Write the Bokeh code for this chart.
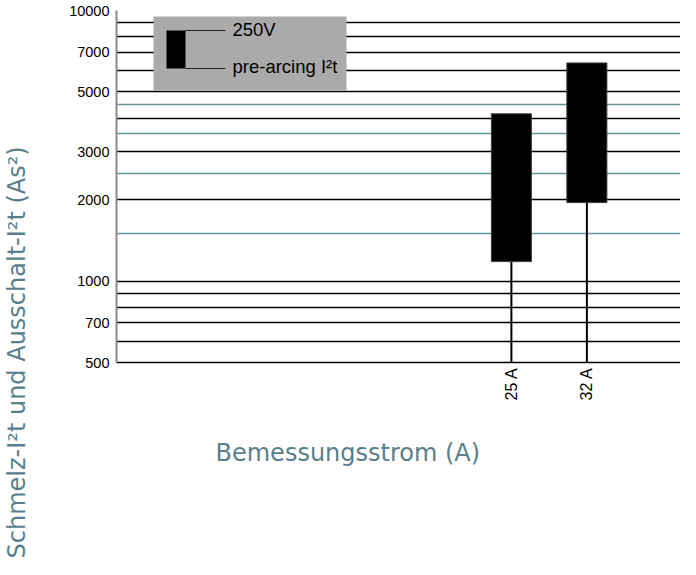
import math
from bokeh.plotting import figure
from bokeh.layouts import row
from bokeh.models import (Range1d, FixedTicker, Grid, BoxAnnotation, Label,
                          BasicTickFormatter, Title)
from bokeh.embed import file_html
from bokeh.resources import INLINE

# ---- data ----
ratings = ["25 A", "32 A"]
pre_arcing_low = [1180, 1950]     # bottom of each bar (As²)
operating_high = [4150, 6400]     # top of each bar (As²)
y_ticks = [500, 700, 1000, 2000, 3000, 5000, 7000, 10000]
grid_black = [600, 700, 800, 900, 1000, 2000, 3000, 4000, 5000,
              6000, 7000, 8000, 9000, 10000]
grid_teal = [1500, 2500, 3500, 4500]
legend_labels = ["250V", "pre-arcing I²t"]
y_title = "Schmelz-I²t und Ausschalt-I²t (As²)"
x_title = "Bemessungsstrom (A)"
Y_MIN, Y_MAX = 500, 10000

TITLE_COLOR = "#5a7f8c"
TITLE_FONT = "DejaVu Sans"
TITLE_SIZE = "24px"

x_pos = list(range(len(ratings)))
H = 559

# ---- strip holding the vertical axis title ----
t = figure(width=40, height=H, x_range=Range1d(0, 1), y_range=Range1d(0, 1),
           x_axis_location=None, y_axis_location=None,
           output_backend="svg", toolbar_location=None,
           min_border_left=0, min_border_right=0)
t.grid.visible = False
t.outline_line_color = None
t.add_layout(Title(text=y_title, align="left", offset=-196, standoff=0,
                   text_font=TITLE_FONT, text_font_size=TITLE_SIZE,
                   text_font_style="normal", text_color=TITLE_COLOR), "left")

# ---- main chart ----
p = figure(width=640, height=H, y_axis_type="log",
           x_range=Range1d(-5.23, 2.24), y_range=Range1d(Y_MIN, Y_MAX),
           output_backend="svg", toolbar_location=None,
           min_border_left=76, min_border_right=0,
           min_border_top=10, min_border_bottom=197)
p.outline_line_color = None
p.background_fill_color = "white"

# grids
p.xgrid.visible = False
p.ygrid.ticker = FixedTicker(ticks=grid_black)
p.ygrid.grid_line_color = "black"
p.ygrid.grid_line_width = 1.3
p.ygrid.grid_line_alpha = 1
p.ygrid.minor_grid_line_color = None
g2 = Grid(dimension=1, ticker=FixedTicker(ticks=grid_teal),
          grid_line_color="#6a9298", grid_line_width=1.5)
p.add_layout(g2)

# y axis
ya = p.yaxis[0]
ya.ticker = FixedTicker(ticks=y_ticks)
ya.formatter = BasicTickFormatter(use_scientific=False)
ya.axis_line_color = "#8a8a8a"
ya.axis_line_width = 2
ya.major_tick_line_color = None
ya.minor_tick_line_color = None
ya.major_tick_out = 0
ya.minor_tick_out = 0
ya.major_label_standoff = 7
ya.major_label_text_font = "Liberation Sans"
ya.major_label_text_font_size = "14.5px"
ya.major_label_text_color = "black"

# x axis
xa = p.xaxis[0]
xa.ticker = FixedTicker(ticks=x_pos)
xa.major_label_overrides = {i: r for i, r in zip(x_pos, ratings)}
xa.major_label_orientation = math.pi / 2
xa.axis_line_color = "black"
xa.axis_line_width = 1.5
xa.major_tick_line_color = None
xa.minor_tick_line_color = None
xa.major_tick_out = 0
xa.minor_tick_out = 0
xa.major_label_standoff = 5
xa.major_label_text_font = "Liberation Sans"
xa.major_label_text_font_size = "16px"
xa.major_label_text_color = "black"

# stems and bars
p.segment(x0=x_pos, x1=x_pos, y0=[Y_MIN] * len(x_pos), y1=pre_arcing_low,
          line_color="black", line_width=2)
p.vbar(x=x_pos, bottom=pre_arcing_low, top=operating_high, width=0.53,
       fill_color="black", line_color="#3a3a3a", line_width=1)

# legend box (screen units, relative to frame)
p.add_layout(BoxAnnotation(left=37, right=230, top=346, bottom=272,
                           left_units="screen", right_units="screen",
                           top_units="screen", bottom_units="screen",
                           fill_color="#aaaaaa", fill_alpha=1, line_color=None))
p.add_layout(BoxAnnotation(left=50, right=69, top=332, bottom=294,
                           left_units="screen", right_units="screen",
                           top_units="screen", bottom_units="screen",
                           fill_color="black", fill_alpha=1, line_color=None))
for yy in (332, 294):
    p.add_layout(BoxAnnotation(left=69, right=109, top=yy + 0.6, bottom=yy - 0.6,
                               left_units="screen", right_units="screen",
                               top_units="screen", bottom_units="screen",
                               fill_color="#222222", fill_alpha=1, line_color=None))
for txt, yy in zip(legend_labels, (333, 296)):
    p.add_layout(Label(x=116, y=yy, x_units="screen", y_units="screen", text=txt,
                       text_font="Liberation Sans", text_font_size="18.5px",
                       text_color="black", text_baseline="middle"))

# x axis title
p.add_layout(Title(text=x_title, align="left", offset=99, standoff=66,
                   text_font=TITLE_FONT, text_font_size=TITLE_SIZE,
                   text_font_style="normal", text_color=TITLE_COLOR), "below")

layout = row(t, p, spacing=0)
open("out.html", "w").write(file_html(layout, INLINE))
